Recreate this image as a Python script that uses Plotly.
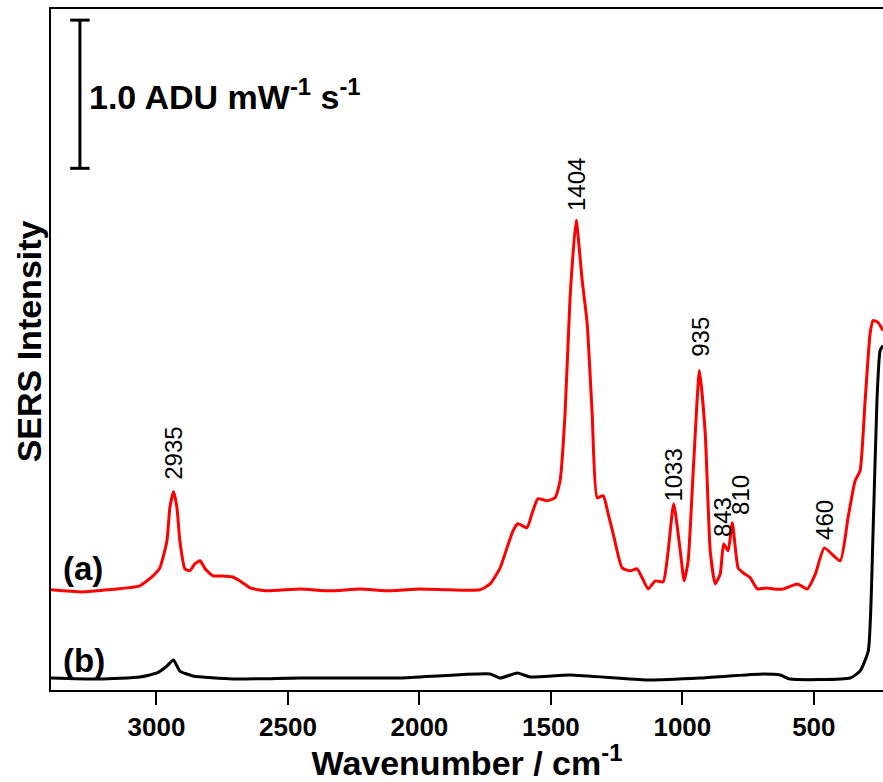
import plotly.graph_objects as go

# ---- data (wavenumber / cm^-1, intensity in ADU mW^-1 s^-1, offset) ----
wn_a = [3401, 3283, 3188, 3063, 3013, 2987, 2960, 2949, 2935, 2922, 2911, 2892, 2873, 2854,
        2834, 2815, 2785, 2751, 2713, 2682, 2644, 2580, 2454, 2340, 2226, 2112, 1998, 1884,
        1770, 1731, 1693, 1667, 1644, 1626, 1591, 1572, 1549, 1515, 1484, 1465, 1446, 1427,
        1404, 1381, 1362, 1343, 1324, 1301, 1282, 1263, 1229, 1198, 1172, 1153, 1130, 1103,
        1073, 1054, 1033, 1008, 993, 978, 958, 935, 913, 894, 875, 856, 843, 826, 810, 788,
        769, 742, 715, 677, 654, 616, 563, 525, 494, 460, 400, 370, 343, 324, 305, 286, 275,
        256, 237]
int_a = [0.676, 0.662, 0.676, 0.703, 0.770, 0.824, 1.007, 1.230, 1.338, 1.230, 1.007, 0.818,
         0.804, 0.851, 0.872, 0.818, 0.770, 0.770, 0.764, 0.736, 0.689, 0.669, 0.682, 0.669,
         0.682, 0.669, 0.682, 0.676, 0.676, 0.716, 0.824, 0.959, 1.074, 1.122, 1.095, 1.189,
         1.291, 1.277, 1.297, 1.412, 1.865, 2.649, 3.169, 2.764, 2.473, 1.865, 1.297, 1.311,
         1.189, 1.054, 0.824, 0.804, 0.818, 0.757, 0.682, 0.736, 0.730, 0.939, 1.257, 0.939,
         0.736, 0.872, 1.500, 2.155, 1.730, 0.939, 0.716, 0.784, 0.986, 0.939, 1.128, 0.824,
         0.791, 0.757, 0.682, 0.689, 0.682, 0.682, 0.716, 0.682, 0.784, 0.959, 0.872, 1.162,
         1.412, 1.480, 1.953, 2.405, 2.493, 2.480, 2.426]

wn_b = [3401, 3215, 3063, 2998, 2960, 2935, 2911, 2861, 2709, 2454, 2074, 1731, 1693, 1628,
        1579, 1427, 1134, 932, 692, 628, 590, 362, 324, 293, 275, 260, 248, 237]
int_b = [0.081, 0.074, 0.088, 0.115, 0.162, 0.203, 0.128, 0.095, 0.074, 0.081, 0.081, 0.108,
         0.081, 0.115, 0.088, 0.101, 0.068, 0.081, 0.108, 0.101, 0.074, 0.081, 0.128, 0.264,
         1.054, 1.953, 2.291, 2.324]

peak_labels = ["2935", "1404", "1033", "935", "843", "810", "460"]
peak_label_x = [2935, 1400, 1034, 932, 848, 780, 457]
peak_label_y = [1.412, 3.223, 1.264, 2.243, 1.027, 1.176, 1.007]

x_ticks = [3000, 2500, 2000, 1500, 1000, 500]
x_range = [3401, 237]
y_range = [0, 4.595]

curve_labels = ["(a)", "(b)"]
curve_label_x = [3360, 3360]
curve_label_y = [0.818, 0.196]

scale_bar_x = 3291
scale_bar_bottom = 3.52
scale_bar_length = 1.0
scale_bar_cap = 37
scale_text_x = 3262

FONT = "Arial, Liberation Sans, Helvetica, sans-serif"

fig = go.Figure()
fig.add_trace(go.Scatter(x=wn_a, y=int_a, mode="lines",
                         line=dict(color="#ff0000", width=3, shape="spline", smoothing=0.5),
                         showlegend=False))
fig.add_trace(go.Scatter(x=wn_b, y=int_b, mode="lines",
                         line=dict(color="#000000", width=3, shape="spline", smoothing=0.5),
                         showlegend=False))

annotations = []
for t, x, y in zip(peak_labels, peak_label_x, peak_label_y):
    annotations.append(dict(x=x, y=y, xref="x", yref="y", text=t, textangle=-90,
                            showarrow=False, xanchor="center", yanchor="bottom", borderpad=0,
                            font=dict(family=FONT, size=24, color="black")))
for t, x, y in zip(curve_labels, curve_label_x, curve_label_y):
    annotations.append(dict(x=x, y=y, xref="x", yref="y", text=t, showarrow=False,
                            xanchor="left", yanchor="middle", borderpad=0,
                            font=dict(family=FONT, size=33, color="black", weight="bold")))
annotations.append(dict(x=scale_text_x, y=scale_bar_bottom + scale_bar_length / 2, xref="x", yref="y",
                        text="1.0 ADU mW<sup>-1</sup> s<sup>-1</sup>", showarrow=False,
                        xanchor="left", yanchor="middle", borderpad=0,
                        font=dict(family=FONT, size=34, color="black", weight="bold")))
annotations.append(dict(x=-0.0264, y=0.512, xref="paper", yref="paper",
                        text="SERS Intensity", textangle=-90, showarrow=False,
                        xanchor="center", yanchor="middle",
                        font=dict(family=FONT, size=34, color="black", weight="bold")))

shapes = [
    dict(type="line", xref="x", yref="y", x0=scale_bar_x, x1=scale_bar_x,
         y0=scale_bar_bottom, y1=scale_bar_bottom + scale_bar_length,
         line=dict(color="black", width=3)),
    dict(type="line", xref="x", yref="y", x0=scale_bar_x + scale_bar_cap, x1=scale_bar_x - scale_bar_cap,
         y0=scale_bar_bottom, y1=scale_bar_bottom, line=dict(color="black", width=3)),
    dict(type="line", xref="x", yref="y", x0=scale_bar_x + scale_bar_cap, x1=scale_bar_x - scale_bar_cap,
         y0=scale_bar_bottom + scale_bar_length, y1=scale_bar_bottom + scale_bar_length,
         line=dict(color="black", width=3)),
]

fig.update_layout(
    width=883, height=782,
    margin=dict(l=51, r=0, t=9, b=92),
    paper_bgcolor="white", plot_bgcolor="white",
    font=dict(family=FONT, color="black"),
    annotations=annotations, shapes=shapes,
    xaxis=dict(range=x_range, tickvals=x_ticks, ticktext=[str(v) for v in x_ticks],
               showline=True, linecolor="black", linewidth=2, mirror=True,
               ticks="outside", ticklen=13, tickwidth=2, tickcolor="black",
               showgrid=False, zeroline=False,
               tickfont=dict(family=FONT, size=26, color="black", weight="bold"),
               title=dict(text="Wavenumber / cm<sup>-1</sup>", standoff=6,
                          font=dict(family=FONT, size=34, color="black", weight="bold"))),
    yaxis=dict(range=y_range, showline=True, linecolor="black", linewidth=2,
               showticklabels=False, ticks="", showgrid=False, zeroline=False),
)

fig.write_html("out.html")
